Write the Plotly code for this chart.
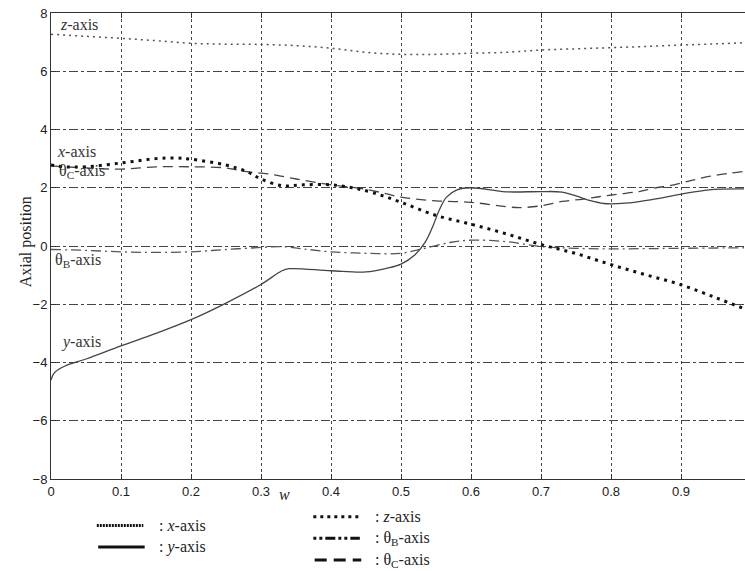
import plotly.graph_objects as go

# ---------------- data ----------------
w_x = [0, 0.02, 0.05, 0.1, 0.15, 0.18, 0.2, 0.25, 0.28, 0.3, 0.33, 0.36, 0.4, 0.43, 0.46,
       0.5, 0.55, 0.6, 0.65, 0.7, 0.75, 0.8, 0.85, 0.9, 0.95, 0.99]
x_axis = [2.78, 2.72, 2.72, 2.85, 3.0, 3.02, 2.98, 2.78, 2.55, 2.3, 2.07, 2.1, 2.1, 2.0, 1.83,
          1.5, 1.05, 0.75, 0.42, 0.05, -0.26, -0.64, -0.99, -1.33, -1.78, -2.15]

w_y = [0, 0.005, 0.02, 0.05, 0.1, 0.15, 0.2, 0.25, 0.3, 0.33, 0.34, 0.4, 0.45, 0.48, 0.5,
       0.52, 0.535, 0.545, 0.555, 0.565, 0.58, 0.6, 0.65, 0.7, 0.73, 0.75, 0.77, 0.79, 0.82,
       0.86, 0.9, 0.94, 0.99]
y_axis = [-4.6, -4.35, -4.12, -3.88, -3.43, -3.0, -2.53, -1.96, -1.32, -0.85, -0.78, -0.85,
          -0.89, -0.76, -0.62, -0.3, 0.15, 0.65, 1.25, 1.68, 1.93, 2.0, 1.86, 1.87, 1.85, 1.72,
          1.56, 1.46, 1.47, 1.6, 1.78, 1.93, 1.96]

w_z = [0, 0.05, 0.1, 0.15, 0.2, 0.25, 0.3, 0.35, 0.4, 0.45, 0.5, 0.55, 0.6, 0.65, 0.7, 0.75,
       0.8, 0.85, 0.9, 0.95, 0.99]
z_axis = [7.27, 7.2, 7.13, 7.05, 6.96, 6.93, 6.92, 6.88, 6.79, 6.65, 6.58, 6.58, 6.62, 6.65,
          6.73, 6.77, 6.81, 6.85, 6.9, 6.94, 6.98]

w_b = [0, 0.05, 0.1, 0.15, 0.2, 0.25, 0.3, 0.33, 0.36, 0.4, 0.45, 0.5, 0.53, 0.57, 0.6, 0.65,
       0.7, 0.75, 0.8, 0.85, 0.9, 0.99]
thetaB_axis = [-0.12, -0.15, -0.2, -0.22, -0.2, -0.12, -0.05, -0.02, -0.1, -0.2, -0.25, -0.25,
               -0.1, 0.12, 0.2, 0.15, -0.02, -0.08, -0.1, -0.09, -0.08, -0.06]

w_c = [0, 0.05, 0.1, 0.15, 0.2, 0.25, 0.28, 0.31, 0.35, 0.4, 0.45, 0.5, 0.55, 0.6, 0.65,
       0.67, 0.7, 0.73, 0.76, 0.785, 0.81, 0.84, 0.86, 0.89, 0.915, 0.94, 0.97, 0.99]
thetaC_axis = [2.75, 2.68, 2.64, 2.72, 2.72, 2.68, 2.55, 2.48, 2.3, 2.1, 1.95, 1.68, 1.55, 1.5,
               1.35, 1.32, 1.38, 1.53, 1.61, 1.7, 1.78, 1.87, 1.98, 2.1, 2.25, 2.39, 2.5, 2.56]

x_ticks = [0, 0.1, 0.2, 0.3, 0.4, 0.5, 0.6, 0.7, 0.8, 0.9]
x_tick_labels = ["0", "0.1", "0.2", "0.3", "0.4", "0.5", "0.6", "0.7", "0.8", "0.9"]
y_ticks = [-8, -6, -4, -2, 0, 2, 4, 6, 8]

SERIF = "Liberation Serif"
SANS = "Liberation Sans"

fig = go.Figure()
fig.add_trace(go.Scatter(x=w_z, y=z_axis, mode="lines", line_shape="spline",
                         line=dict(color="#555555", width=1.5, dash="2px,4px")))
fig.add_trace(go.Scatter(x=w_b, y=thetaB_axis, mode="lines", line_shape="spline",
                         line=dict(color="#555555", width=1.3, dash="10px,4px,2px,4px")))
fig.add_trace(go.Scatter(x=w_c, y=thetaC_axis, mode="lines", line_shape="spline",
                         line=dict(color="#444444", width=1.3, dash="10px,6px")))
fig.add_trace(go.Scatter(x=w_y, y=y_axis, mode="lines", line_shape="spline",
                         line=dict(color="#444444", width=1.3)))
fig.add_trace(go.Scatter(x=w_x, y=x_axis, mode="lines", line_shape="spline",
                         line=dict(color="#111111", width=3, dash="3px,5px")))

# curve labels
labels = [
    (0.01, 7.6, "<i>z</i>-axis"),
    (0.006, 3.24, "<i>x</i>-axis"),
    (0.009, 2.55, "θ<sub>C</sub>-axis"),
    (0.003, -0.5, "θ<sub>B</sub>-axis"),
    (0.012, -3.3, "<i>y</i>-axis"),
]
for lx, ly, lt in labels:
    fig.add_annotation(x=lx, y=ly, text=lt, showarrow=False, xanchor="left", yanchor="middle",
                       font=dict(family=SERIF, size=16, color="#333333"))

# axis titles
fig.add_annotation(xref="paper", yref="paper", x=-0.052, y=0.51, text="Axial position",
                   textangle=-90, showarrow=False, font=dict(family=SERIF, size=16, color="#222222"))
fig.add_annotation(xref="paper", yref="paper", x=0.326, y=-0.056, text="<i>w</i>",
                   showarrow=False, font=dict(family=SERIF, size=16, color="#222222"))

# custom legend
legend_items = [
    (0.066, 0.133, -0.100, dict(color="#111111", width=3, dash="2px,1px"), ": <i>x</i>-axis", 0.153),
    (0.068, 0.135, -0.146, dict(color="#111111", width=3), ": <i>y</i>-axis", 0.153),
    (0.378, 0.445, -0.081, dict(color="#111111", width=3, dash="3px,4px"), ": <i>z</i>-axis", 0.464),
    (0.378, 0.445, -0.127, dict(color="#111111", width=3, dash="3px,3px,3px,3px,10px,3px"), ": θ<sub>B</sub>-axis", 0.464),
    (0.380, 0.447, -0.174, dict(color="#111111", width=3, dash="12px,7px"), ": θ<sub>C</sub>-axis", 0.464),
]
for x0, x1, yy, ln, txt, tx in legend_items:
    fig.add_shape(type="line", xref="paper", yref="paper", x0=x0, x1=x1, y0=yy, y1=yy, line=ln)
    fig.add_annotation(xref="paper", yref="paper", x=tx, y=yy, text=txt, showarrow=False,
                       xanchor="left", yanchor="middle",
                       font=dict(family=SERIF, size=16, color="#222222"))

fig.update_layout(
    width=745, height=571,
    margin=dict(l=51, r=0, t=13, b=92, autoexpand=False),
    paper_bgcolor="white", plot_bgcolor="white",
    showlegend=False,
    font=dict(family=SANS, size=13, color="#222222"),
)
fig.update_xaxes(range=[0, 0.9914], tickvals=x_ticks, ticktext=x_tick_labels, automargin=False,
                 showgrid=True, gridcolor="#444444", gridwidth=1, griddash="dot",
                 showline=True, linecolor="#333333", linewidth=1, mirror="ticks",
                 ticks="inside", ticklen=5, tickcolor="#333333", zeroline=False,
                 tickfont=dict(family=SANS, size=13, color="#222222"))
fig.update_yaxes(range=[-8, 8], tickvals=y_ticks, automargin=False,
                 showgrid=True, gridcolor="#444444", gridwidth=1, griddash="dashdot",
                 showline=True, linecolor="#333333", linewidth=1, mirror=False,
                 ticks="inside", ticklen=5, tickcolor="#333333", zeroline=False,
                 tickfont=dict(family=SANS, size=13, color="#222222"))

fig.write_html("out.html", config={"displayModeBar": False},
               post_script="document.body.style.margin='0';document.body.style.overflow='hidden';")
